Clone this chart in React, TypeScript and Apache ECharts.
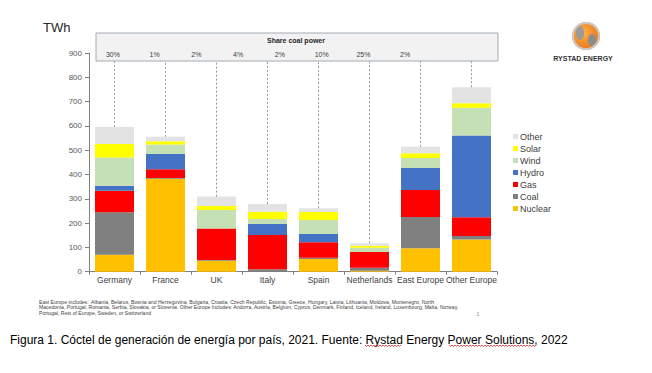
import React, { useEffect, useRef } from "react";
import * as echarts from "echarts";

const categories = ["Germany", "France", "UK", "Italy", "Spain", "Netherlands", "East Europe", "Other Europe"];
const nuclear = [70, 382, 45, 0, 52, 4, 96, 132];
const coal = [175, 4, 3, 10, 5, 12, 129, 15];
const gas = [88, 36, 130, 141, 64, 65, 111, 77];
const hydro = [21, 62, 0, 45, 34, 0, 91, 336];
const wind = [116, 39, 76, 21, 58, 18, 41, 115];
const solar = [56, 14, 16, 30, 33, 8, 19, 18];
const other = [70, 18, 39, 32, 15, 10, 27, 66];
const coalShare = ["30%", "1%", "2%", "4%", "2%", "10%", "25%", "2%"];
const yTicks = { min: 0, max: 900, interval: 100 };

const seriesDefs = [
  { name: "Nuclear", data: nuclear, color: "#FFC000" },
  { name: "Coal", data: coal, color: "#808080" },
  { name: "Gas", data: gas, color: "#FF0000" },
  { name: "Hydro", data: hydro, color: "#4472C4" },
  { name: "Wind", data: wind, color: "#C5E0B4" },
  { name: "Solar", data: solar, color: "#FFFF00" },
  { name: "Other", data: other, color: "#E3E3E3" },
];

const FONT = "Liberation Sans";

export default function App() {
  const ref = useRef<HTMLDivElement>(null);
  useEffect(() => {
    document.body.style.margin = "0";
    const chart = echarts.init(ref.current!, null, { renderer: "svg" });
    const totals = categories.map((_, i) => seriesDefs.reduce((s, d) => s + d.data[i], 0));
    const wavy = (x0: number, x1: number, y: number) => {
      const pts: number[][] = [];
      let up = true;
      for (let x = x0; x <= x1; x += 1.5) {
        pts.push([x, up ? y : y + 1.5]);
        up = !up;
      }
      return pts;
    };
    const series: any[] = seriesDefs.map((d, idx) => ({
      name: d.name,
      type: "bar",
      stack: "total",
      data: d.data,
      barWidth: 39,
      xAxisIndex: 0,
      yAxisIndex: 0,
      itemStyle: { color: d.color },
      emphasis: { disabled: true },
      ...(idx === seriesDefs.length - 1
        ? {
            markLine: {
              silent: true,
              symbol: ["none", "none"],
              label: { show: false },
              lineStyle: { color: "#8a9bb0", type: [2, 2], width: 1 },
              data: categories.map((c, i) => [
                { coord: [c, totals[i]] },
                { coord: [c, 867] },
              ]),
            },
          }
        : {}),
    }));
    chart.setOption({
      animation: false,
      backgroundColor: "#ffffff",
      textStyle: { fontFamily: FONT },
      grid: [
        { left: 89, right: 155, top: 53, bottom: 101.3 },
        { left: 92, width: 334, top: 33, height: 17 },
      ],
      legend: {
        data: ["Other", "Solar", "Wind", "Hydro", "Gas", "Coal", "Nuclear"],
        orient: "vertical",
        left: 508,
        top: 127,
        icon: "rect",
        itemWidth: 5,
        itemHeight: 5,
        itemGap: 3,
        selectedMode: false,
        textStyle: { fontSize: 9, color: "#404040", fontFamily: FONT, padding: [0, 0, 0, -3], lineHeight: 9 },
      },
      xAxis: [
        {
          type: "category",
          gridIndex: 0,
          data: categories,
          axisLine: { lineStyle: { color: "#808080" } },
          axisTick: { show: true, length: 3, lineStyle: { color: "#808080" } },
          axisLabel: { fontSize: 8.5, color: "#404040", margin: 4, interval: 0, fontFamily: FONT },
        },
        {
          type: "category",
          gridIndex: 1,
          data: coalShare,
          axisLine: { show: false },
          axisTick: { show: false },
          axisLabel: { fontSize: 7, color: "#404040", margin: 1, interval: 0, fontFamily: FONT },
        },
      ],
      yAxis: [
        {
          type: "value",
          gridIndex: 0,
          ...yTicks,
          splitLine: { show: false },
          axisLine: { show: true, lineStyle: { color: "#808080" } },
          axisTick: { show: true, length: 4, lineStyle: { color: "#808080" } },
          axisLabel: { fontSize: 8, color: "#595959", margin: 7, fontFamily: FONT },
        },
        { type: "value", gridIndex: 1, show: false },
      ],
      series,
      graphic: [
        {
          type: "rect",
          z: -1,
          shape: { x: 96, y: 33, width: 402, height: 28 },
          style: { fill: "#f2f2f2", stroke: "#a3acb6", lineWidth: 1 },
        },
        {
          type: "text",
          x: 296,
          y: 40,
          style: { text: "Share coal power", fontSize: 7, fontWeight: "bold", fill: "#262626", align: "center", verticalAlign: "middle", fontFamily: FONT },
        },
        {
          type: "text",
          x: 43,
          y: 27,
          style: { text: "TWh", fontSize: 13, fill: "#262626", align: "left", verticalAlign: "middle", fontFamily: FONT },
        },
        { type: "circle", shape: { cx: 586, cy: 36, r: 14 }, style: { fill: new echarts.graphic.RadialGradient(0.4, 0.4, 0.7, [{ offset: 0, color: "#ffb347" }, { offset: 1, color: "#e86a10" }]) } },
        { type: "ellipse", shape: { cx: 580, cy: 33, rx: 4, ry: 7 }, style: { fill: "#9a9a9a" } },
        { type: "ellipse", shape: { cx: 592, cy: 40, rx: 4, ry: 6 }, style: { fill: "#8c8c8c" } },
        { type: "ring", shape: { cx: 586, cy: 36, r: 14, r0: 12 }, style: { fill: "#c9c9c9" } },
        {
          type: "text",
          x: 583,
          y: 58,
          style: { text: "RYSTAD ENERGY", fontSize: 7, fontWeight: "bold", fill: "#333333", align: "center", verticalAlign: "middle", fontFamily: FONT },
        },
        {
          type: "text",
          x: 39,
          y: 299,
          style: {
            text:
              "East Europe includes:  Albania, Belarus, Bosnia and Herzegovina, Bulgaria, Croatia, Czech Republic, Estonia, Greece, Hungary, Latvia, Lithuania, Moldova, Montenegro, North\nMacedonia, Portugal, Romania, Serbia, Slovakia, or Slovenia. Other Europe Includes: Andorra, Austria, Belgium, Cyprus, Denmark, Finland, Iceland, Ireland, Luxembourg, Malta, Norway,\nPortugal, Rest of Europe, Sweden, or Switzerland",
            fontSize: 5.1,
            lineHeight: 5.6,
            fill: "#404040",
            align: "left",
            verticalAlign: "top",
            fontFamily: FONT,
          },
        },
        {
          type: "text",
          x: 478,
          y: 314,
          style: { text: "1", fontSize: 5, fill: "#808080", align: "center", verticalAlign: "middle", fontFamily: FONT },
        },
        {
          type: "text",
          x: 10,
          y: 340,
          style: {
            text: "Figura 1. Cóctel de generación de energía por país, 2021. Fuente: Rystad Energy Power Solutions, 2022",
            fontSize: 12,
            fill: "#000000",
            align: "left",
            verticalAlign: "middle",
            fontFamily: FONT,
          },
        },
        { type: "polyline", shape: { points: wavy(365, 402, 345) }, style: { stroke: "#e02020", lineWidth: 0.8, fill: null } },
        { type: "polyline", shape: { points: wavy(449, 537, 345) }, style: { stroke: "#e02020", lineWidth: 0.8, fill: null } },
      ],
    });
    return () => chart.dispose();
  }, []);
  return <div ref={ref} style={{ width: 652, height: 373 }} />;
}
